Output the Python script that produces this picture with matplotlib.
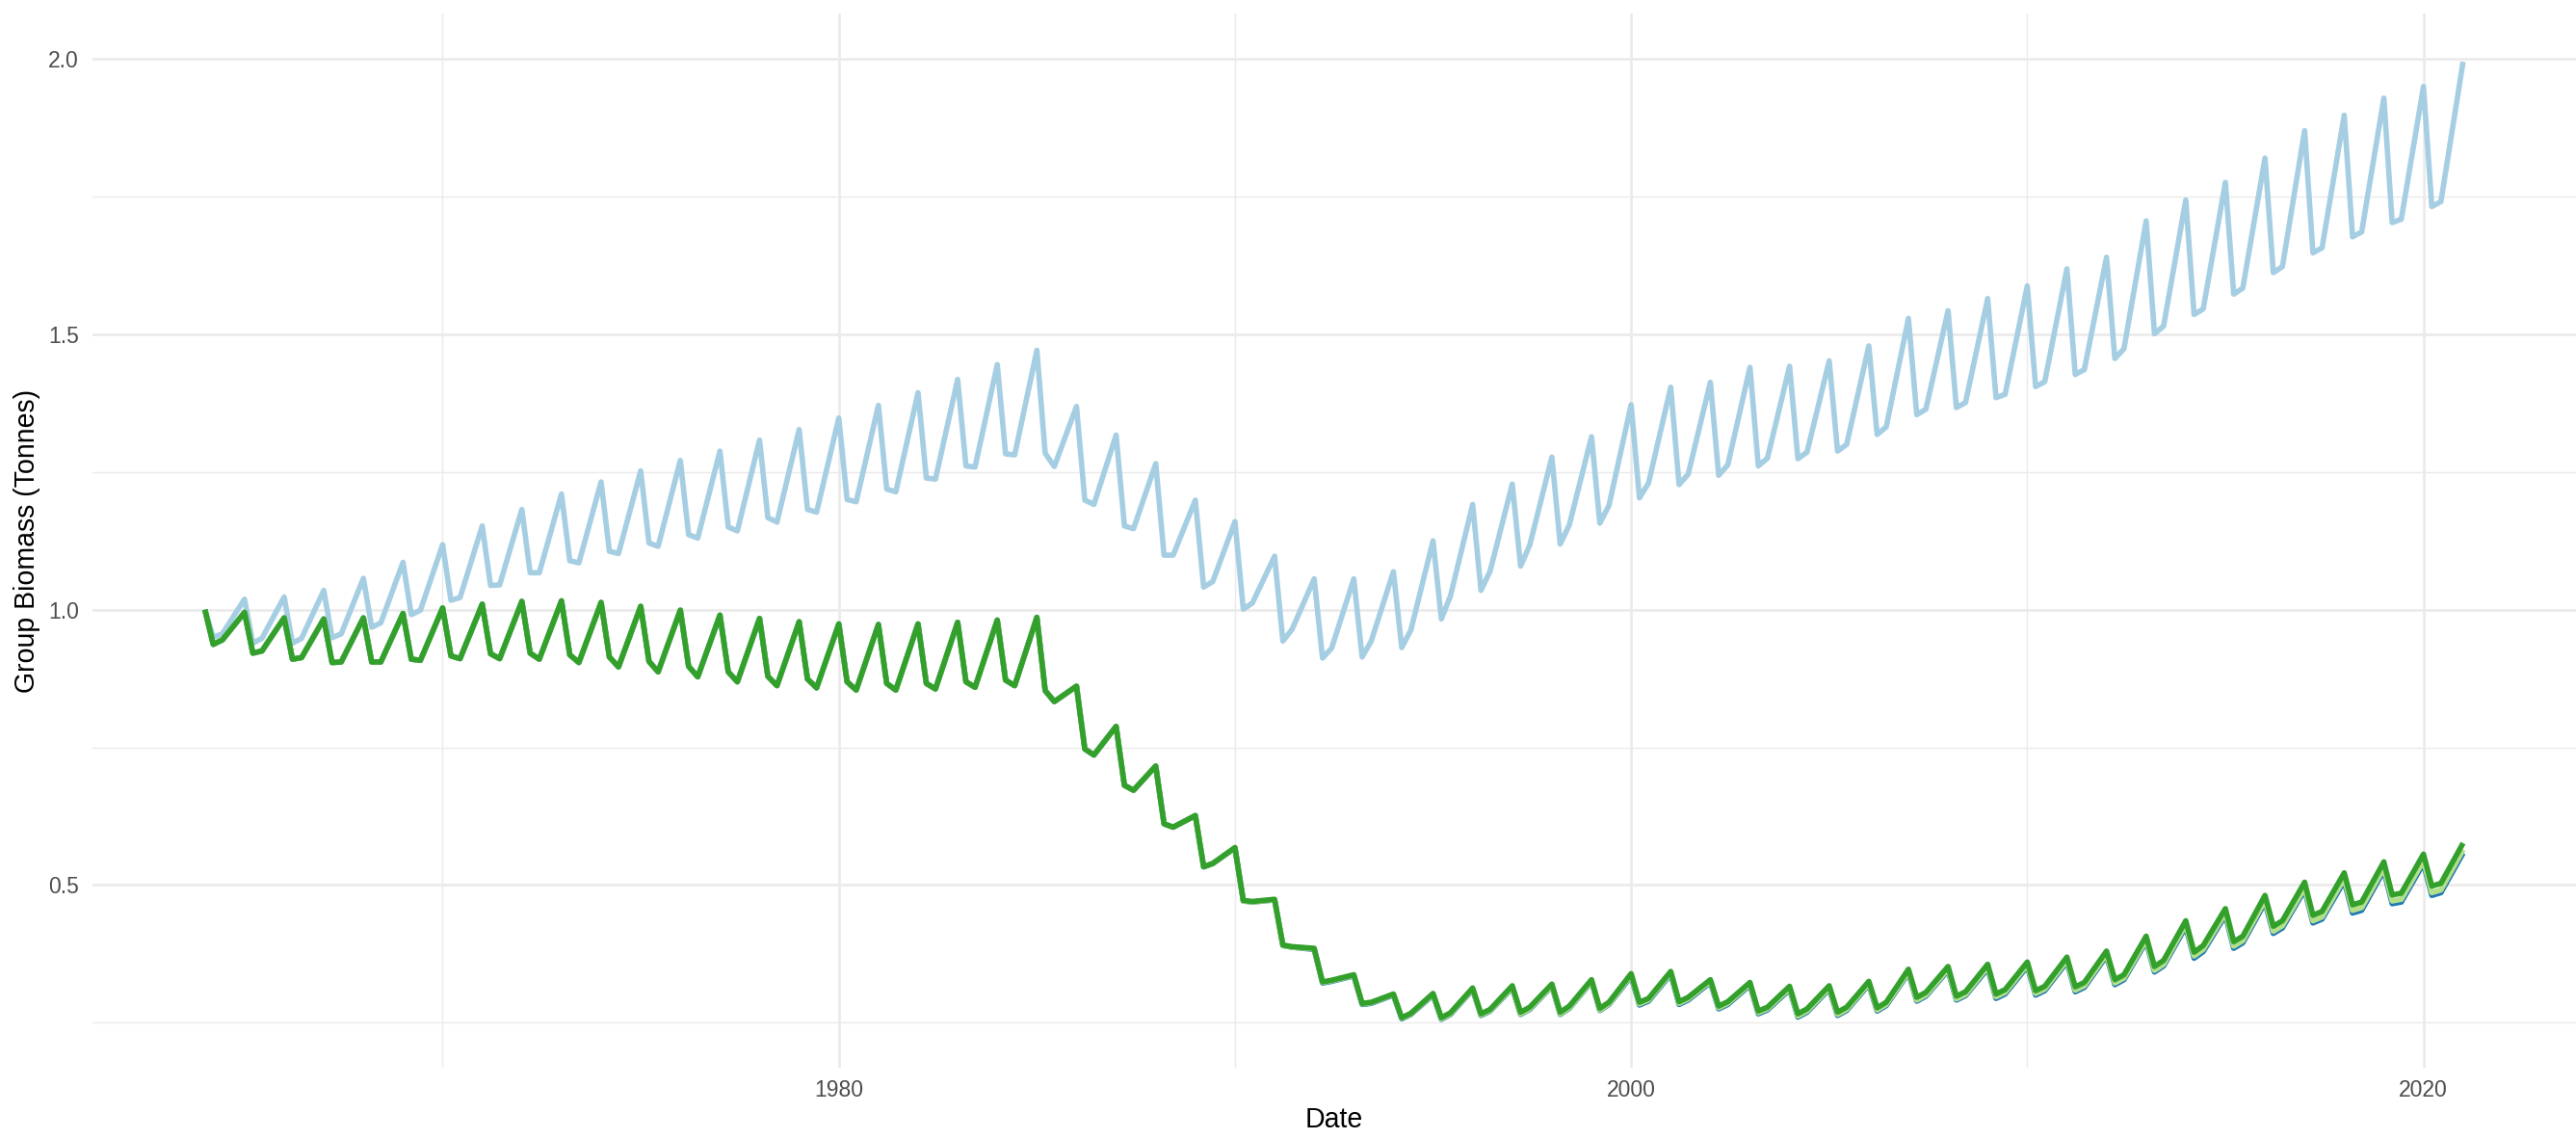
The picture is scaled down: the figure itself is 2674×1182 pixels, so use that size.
import matplotlib
matplotlib.use("Agg")
import matplotlib.pyplot as plt
from matplotlib.ticker import FixedLocator
import numpy as np

plt.rcParams['font.family'] = ['Liberation Sans', 'DejaVu Sans']

# years in the run; each year has a start value, then two lower readings
years = list(range(1964, 2021))
step_offsets = [0.0, 0.21, 0.44]
end_year = 2021.0

# light blue group
lb_peak = [1.000, 1.019, 1.023, 1.035, 1.057, 1.086, 1.118, 1.152, 1.182, 1.210,
           1.232, 1.252, 1.271, 1.288, 1.308, 1.327, 1.348, 1.371, 1.394, 1.418,
           1.445, 1.471, 1.369, 1.317, 1.265, 1.199, 1.160, 1.097, 1.056, 1.056,
           1.069, 1.125, 1.191, 1.228, 1.277, 1.314, 1.372, 1.404, 1.413, 1.440,
           1.442, 1.452, 1.479, 1.529, 1.543, 1.565, 1.588, 1.619, 1.640, 1.706,
           1.744, 1.776, 1.820, 1.870, 1.898, 1.929, 1.950]
lb_low = [0.950, 0.939, 0.939, 0.949, 0.968, 0.991, 1.017, 1.044, 1.067, 1.089,
          1.106, 1.121, 1.136, 1.150, 1.167, 1.182, 1.200, 1.219, 1.239, 1.261,
          1.283, 1.284, 1.199, 1.152, 1.099, 1.041, 1.001, 0.943, 0.912, 0.914,
          0.931, 0.983, 1.035, 1.079, 1.119, 1.157, 1.203, 1.227, 1.244, 1.261,
          1.274, 1.288, 1.318, 1.354, 1.367, 1.385, 1.405, 1.427, 1.456, 1.501,
          1.536, 1.573, 1.612, 1.648, 1.677, 1.703, 1.732]
lb_low2 = [0.956, 0.948, 0.948, 0.956, 0.976, 0.999, 1.022, 1.045, 1.067, 1.085,
           1.102, 1.115, 1.130, 1.143, 1.159, 1.177, 1.196, 1.214, 1.237, 1.259,
           1.281, 1.260, 1.191, 1.147, 1.099, 1.051, 1.012, 0.964, 0.930, 0.943,
           0.963, 1.025, 1.070, 1.117, 1.154, 1.189, 1.230, 1.246, 1.263, 1.275,
           1.286, 1.300, 1.332, 1.364, 1.376, 1.391, 1.414, 1.436, 1.474, 1.515,
           1.546, 1.584, 1.623, 1.657, 1.686, 1.709, 1.741]
lb_end = 1.995

# green group
g_peak = [1.000, 0.995, 0.985, 0.983, 0.985, 0.993, 1.003, 1.010, 1.015, 1.016,
          1.013, 1.006, 0.999, 0.990, 0.984, 0.978, 0.974, 0.973, 0.974, 0.977,
          0.981, 0.986, 0.861, 0.788, 0.716, 0.626, 0.568, 0.474, 0.385, 0.337,
          0.302, 0.303, 0.313, 0.317, 0.320, 0.328, 0.339, 0.343, 0.328, 0.323,
          0.316, 0.317, 0.325, 0.347, 0.352, 0.356, 0.360, 0.369, 0.380, 0.407,
          0.435, 0.457, 0.481, 0.505, 0.522, 0.542, 0.556]
g_low = [0.937, 0.921, 0.910, 0.904, 0.905, 0.910, 0.916, 0.920, 0.921, 0.918,
         0.914, 0.906, 0.897, 0.887, 0.879, 0.874, 0.869, 0.866, 0.866, 0.869,
         0.872, 0.853, 0.747, 0.681, 0.611, 0.533, 0.472, 0.391, 0.324, 0.285,
         0.259, 0.259, 0.266, 0.269, 0.269, 0.276, 0.287, 0.288, 0.280, 0.271,
         0.266, 0.269, 0.277, 0.296, 0.298, 0.302, 0.308, 0.315, 0.328, 0.352,
         0.378, 0.397, 0.425, 0.445, 0.464, 0.482, 0.498]
g_low2 = [0.945, 0.925, 0.913, 0.905, 0.905, 0.908, 0.911, 0.911, 0.910, 0.904,
          0.896, 0.887, 0.878, 0.869, 0.862, 0.858, 0.854, 0.854, 0.856, 0.859,
          0.862, 0.833, 0.736, 0.672, 0.605, 0.539, 0.470, 0.388, 0.327, 0.287,
          0.267, 0.268, 0.274, 0.278, 0.280, 0.287, 0.294, 0.296, 0.288, 0.278,
          0.275, 0.278, 0.287, 0.305, 0.306, 0.310, 0.316, 0.323, 0.337, 0.363,
          0.390, 0.407, 0.435, 0.452, 0.469, 0.485, 0.503]
g_end = 0.576

# how far the dark blue / light green groups sit below the green one
gap_dark = [0.0] * 26 + [0.001, 0.001, 0.002, 0.002, 0.002,
                         0.003, 0.003, 0.004, 0.004, 0.004, 0.005, 0.005, 0.005, 0.005, 0.006,
                         0.006, 0.006, 0.007, 0.007, 0.008, 0.008, 0.009, 0.009, 0.010, 0.011,
                         0.012, 0.013, 0.014, 0.015, 0.016, 0.017]
gap_dark_end = 0.018
gap_light = [0.0] * 26 + [0.001, 0.001, 0.001, 0.001, 0.001,
                          0.002, 0.002, 0.003, 0.003, 0.003, 0.003, 0.003, 0.003, 0.003, 0.004,
                          0.004, 0.004, 0.005, 0.005, 0.005, 0.005, 0.006, 0.006, 0.007, 0.007,
                          0.008, 0.009, 0.010, 0.010, 0.011, 0.012]
gap_light_end = 0.012

colors = {"lb": "#A6CEE3", "db": "#1F78B4", "lg": "#B2DF8A", "g": "#33A02C"}


def build(peak, low, low2, end):
    x, y = [], []
    for i, yr in enumerate(years):
        for off, v in zip(step_offsets, (peak[i], low[i], low2[i])):
            x.append(yr + off)
            y.append(v)
    x.append(end_year)
    y.append(end)
    return np.array(x), np.array(y)


x, y_lb = build(lb_peak, lb_low, lb_low2, lb_end)
_, y_g = build(g_peak, g_low, g_low2, g_end)
_, gd = build(gap_dark, gap_dark, gap_dark, gap_dark_end)
_, gl = build(gap_light, gap_light, gap_light, gap_light_end)
y_db = y_g - gd
y_lg = y_g - gl

W, H = 2674, 1182
fig = plt.figure(figsize=(W / 300, H / 300), dpi=300)
left, right, top, bottom = 95.5, 2674, 14.4, 1107.5
ax = fig.add_axes([left / W, 1 - bottom / H, (right - left) / W, (bottom - top) / H])

lw = 1.35
ax.plot(x, y_lb, color=colors["lb"], lw=lw, solid_joinstyle="round", solid_capstyle="butt")
ax.plot(x, y_db, color=colors["db"], lw=lw, solid_joinstyle="round", solid_capstyle="butt")
ax.plot(x, y_lg, color=colors["lg"], lw=lw, solid_joinstyle="round", solid_capstyle="butt")
ax.plot(x, y_g, color=colors["g"], lw=lw, solid_joinstyle="round", solid_capstyle="butt")

# ggplot style 5% expansion
xr = x.max() - x.min()
ax.set_xlim(x.min() - 0.05 * xr, x.max() + 0.05 * xr)
ymin = min(y_lb.min(), y_g.min(), y_db.min())
ymax = max(y_lb.max(), y_g.max())
yr_ = ymax - ymin
ax.set_ylim(ymin - 0.05 * yr_, ymax + 0.05 * yr_)

ax.xaxis.set_major_locator(FixedLocator([1980, 2000, 2020]))
ax.xaxis.set_minor_locator(FixedLocator([1970, 1990, 2010]))
ax.yaxis.set_major_locator(FixedLocator([0.5, 1.0, 1.5, 2.0]))
ax.yaxis.set_minor_locator(FixedLocator([0.25, 0.75, 1.25, 1.75]))
ax.set_yticklabels(["0.5", "1.0", "1.5", "2.0"])
ax.set_xticklabels(["1980", "2000", "2020"])

ax.grid(which="major", color="#EBEBEB", lw=0.65)
ax.grid(which="minor", color="#EBEBEB", lw=0.35)
ax.set_axisbelow(True)
for s in ax.spines.values():
    s.set_visible(False)
ax.tick_params(which="both", length=0)
ax.tick_params(axis="y", labelsize=5.5, labelcolor="#4D4D4D", pad=3.3)
ax.tick_params(axis="x", labelsize=5.5, labelcolor="#4D4D4D", pad=3.0)

fig.text((left + right) / 2 / W, 1 - 1162.5 / H, "Date", ha="center", va="center", fontsize=6.85)
fig.text(28 / W, 1 - (top + bottom) / 2 / H, "Group Biomass (Tonnes)", ha="center", va="center",
         rotation=90, fontsize=6.85)

fig.savefig("out.png", dpi=300)
